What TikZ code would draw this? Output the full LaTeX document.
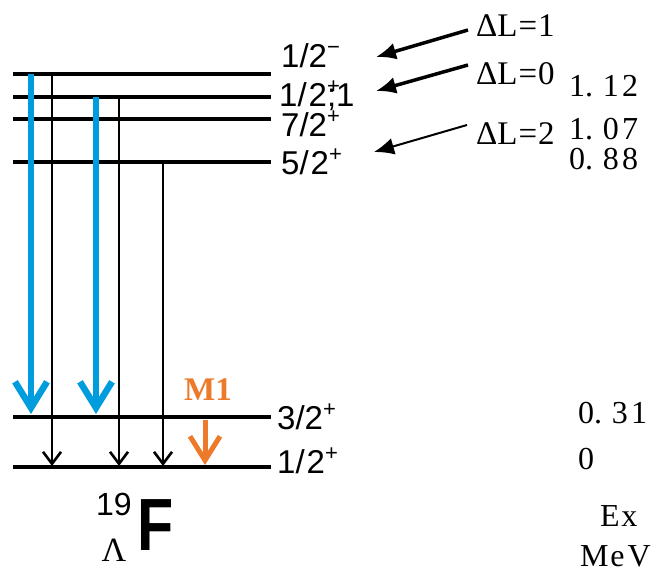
\documentclass[tikz,border=0pt]{standalone}
\usepackage{fontspec}
\setmainfont{Liberation Serif}
\setsansfont{Liberation Sans}
\usetikzlibrary{arrows.meta}
\definecolor{gblue}{RGB}{0,157,222}
\definecolor{morange}{RGB}{236,122,42}
\newcommand\spup[1]{\raisebox{0.42em}{\fontsize{22}{22}\selectfont #1}}
\begin{document}
\begin{tikzpicture}[x=1pt,y=-1pt,
  level/.style={line width=3.5pt},
  gamma/.style={line width=2.6pt,-{Straight Barb[length=12pt,width=18pt]}},
  bgamma/.style={gblue,line width=6.5pt,-{Straight Barb[length=26pt,width=32pt]}},
  ogamma/.style={morange,line width=5pt,-{Straight Barb[length=24pt,width=30pt]}},
  lab/.style={anchor=base west,inner sep=0pt,font=\sffamily\fontsize{33}{33}\selectfont},
  dlab/.style={anchor=base west,inner sep=0pt,font=\fontsize{33}{33}\selectfont},
  elab/.style={anchor=base west,inner sep=0pt,font=\fontsize{32}{32}\selectfont},
  pointer/.style={line width=3.5pt,-{Latex[length=20pt,width=17pt]}}]
\useasboundingbox (0,0) rectangle (665,572);

% level lines
\foreach \n/\y in {1/74,2/97,3/119,4/162,5/417,6/467}{
  \coordinate (L\n w) at (13,\y);
  \coordinate (L\n e) at (271,\y);
  \draw[level] (L\n w) -- (L\n e);
}

% spin-parity labels
\node[lab] (j1) at (281,68) {1/2\spup{−}};
\node[lab] (j2) at (279,107) {1/\kern2pt2\makebox[0pt][l]{\raisebox{0.42em}{\fontsize{22}{22}\selectfont +}};1};
\node[lab] (j3) at (281,137) {7/2\spup{+}};
\node[lab] (j4) at (281,175) {5/\kern2pt2\spup{+}};
\node[lab] (j5) at (277,430) {3/2\spup{+}};
\node[lab] (j6) at (277,474) {1/\kern2pt2\spup{+}};

% gamma transitions
\coordinate (b1) at (31,74);  \coordinate (b1t) at (31,414);
\coordinate (b2) at (96,97);  \coordinate (b2t) at (96,414);
\draw[bgamma] (b1) -- (b1t);
\draw[bgamma] (b2) -- (b2t);
\coordinate (k1) at (52,74);   \coordinate (k1t) at (52,466);
\coordinate (k2) at (119,97);  \coordinate (k2t) at (119,466);
\coordinate (k3) at (163,162); \coordinate (k3t) at (163,466);
\draw[gamma] (k1) -- (k1t);
\draw[gamma] (k2) -- (k2t);
\draw[gamma] (k3) -- (k3t);
\coordinate (m1s) at (205,420); \coordinate (m1t) at (205,465);
\draw[ogamma] (m1s) -- (m1t);
\node[anchor=base,inner sep=0pt,text=morange,font=\bfseries\fontsize{33}{33}\selectfont] (m1) at (208,401) {M1};

% orbital angular momentum transfer
\node[dlab] (d1) at (476,37) {ΔL\kern1pt=\kern1pt1};
\node[dlab] (d0) at (476,85) {ΔL\kern1pt=\kern1pt0};
\node[dlab] (d2) at (476,145) {ΔL\kern1pt=\kern1pt2};
\coordinate (q1) at (468,30);  \coordinate (p1) at (376,57);
\coordinate (q0) at (468,65);  \coordinate (p0) at (376,91);
\coordinate (q2) at (467,125); \coordinate (p2) at (374,152);
\draw[pointer] (q1) -- (p1);
\draw[pointer] (q0) -- (p0);
\draw[pointer,line width=2pt] (q2) -- (p2);

% excitation energies
\node[elab] (e1) at (569,97) {1.\hspace{0.3em}1\hspace{0.1em}2};
\node[elab] (e2) at (569,140) {1.\hspace{0.3em}0\hspace{0.1em}7};
\node[elab] (e3) at (569,170) {0.\hspace{0.3em}8\hspace{0.1em}8};
\node[elab] (e4) at (578,424) {0.\hspace{0.3em}3\hspace{0.1em}1};
\node[elab] (e5) at (578,470) {0};
\node[elab] (ex) at (600,526) {E\hspace{0.05em}x};
\node[elab] (mev) at (580,566) {M\hspace{0.05em}e\hspace{0.1em}V};

% hypernucleus name
\node[anchor=base,inner sep=0pt,font=\sffamily\bfseries\fontsize{74}{74}\selectfont] (F) at (156,550) {\scalebox{0.8}[1]{F}};
\node[anchor=base,inner sep=0pt,font=\sffamily\fontsize{32}{32}\selectfont] (A) at (114,515) {19};
\node[anchor=base,inner sep=0pt,font=\fontsize{34}{34}\selectfont] (Lam) at (114,561) {Λ};
\end{tikzpicture}
\end{document}
